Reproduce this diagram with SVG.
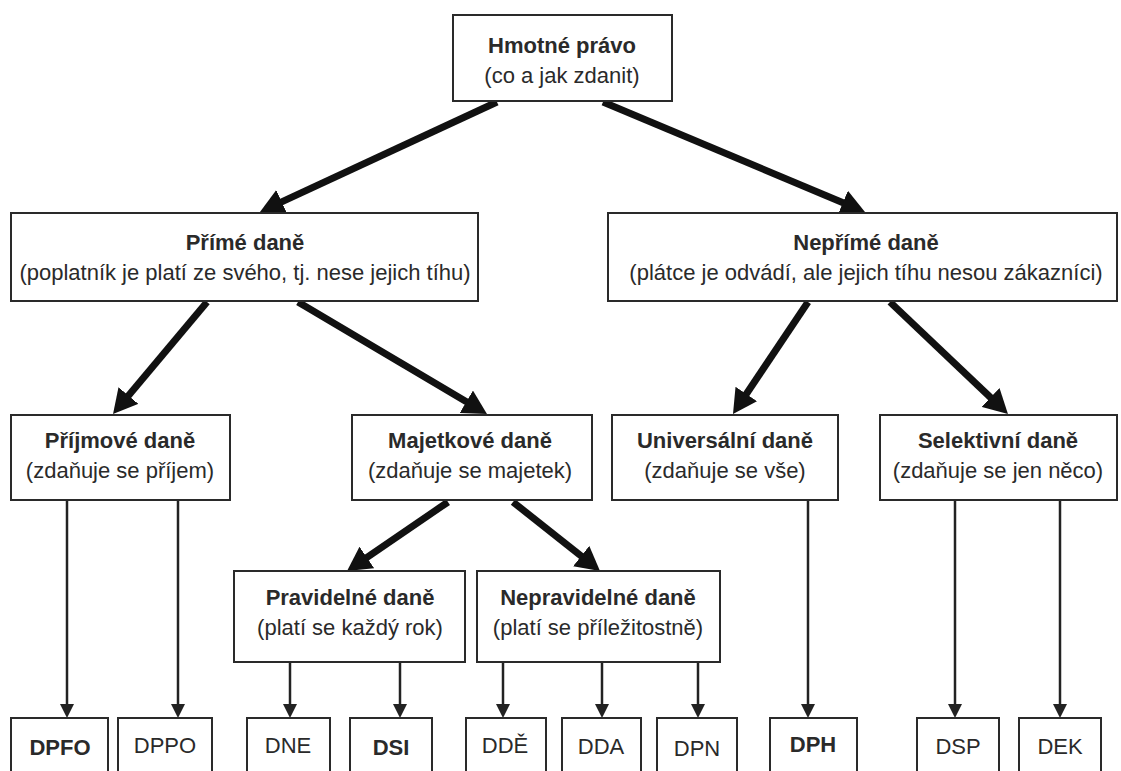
<svg xmlns="http://www.w3.org/2000/svg" width="1121" height="771" viewBox="0 0 1121 771">
<style>
.box{fill:#fff;stroke:#2a2a2a;stroke-width:2}
.t{font-family:"Liberation Sans",Arial,sans-serif;font-size:22px;fill:#2a2a2a;text-anchor:middle}
.b{font-weight:bold}
.thick{stroke:#111;stroke-width:7;fill:none;marker-end:url(#headBig)}
.thin{stroke:#222;stroke-width:2.5;fill:none;marker-end:url(#headSmall)}
</style>
<defs>
<marker id="headBig" markerUnits="userSpaceOnUse" markerWidth="24" markerHeight="26" viewBox="0 0 24 26" refX="6" refY="13" orient="auto">
<path d="M0,0 L24,13 L0,26 z" fill="#111"/>
</marker>
<marker id="headSmall" markerUnits="userSpaceOnUse" markerWidth="14" markerHeight="14" viewBox="0 0 14 14" refX="2" refY="7" orient="auto">
<path d="M0,0 L14,7 L0,14 z" fill="#222"/>
</marker>
</defs>
<rect width="1121" height="771" fill="#fff"/>
<g id="connectors">
<line class="thick" x1="497" y1="102" x2="276.3" y2="204.4"/>
<line class="thick" x1="603" y1="102" x2="848.4" y2="205"/>
<line class="thick" x1="207" y1="302" x2="124.6" y2="400.2"/>
<line class="thick" x1="298" y1="302" x2="471.5" y2="404.8"/>
<line class="thick" x1="808" y1="302" x2="743" y2="399"/>
<line class="thick" x1="890" y1="302" x2="994.9" y2="401.6"/>
<line class="thick" x1="448" y1="502" x2="361.9" y2="560.8"/>
<line class="thick" x1="513" y1="502" x2="585.9" y2="559.8"/>
<line class="thin" x1="67" y1="500" x2="67" y2="706"/>
<line class="thin" x1="178" y1="500" x2="178" y2="706"/>
<line class="thin" x1="290" y1="662" x2="290" y2="706"/>
<line class="thin" x1="400" y1="662" x2="400" y2="706"/>
<line class="thin" x1="503" y1="662" x2="503" y2="706"/>
<line class="thin" x1="602" y1="662" x2="602" y2="706"/>
<line class="thin" x1="698" y1="662" x2="698" y2="706"/>
<line class="thin" x1="808" y1="500" x2="808" y2="706"/>
<line class="thin" x1="955" y1="500" x2="955" y2="706"/>
<line class="thin" x1="1060" y1="500" x2="1060" y2="706"/>
</g>
<g id="hmotne">
<rect class="box" x="453" y="15" width="219" height="86"/>
<text class="t b" x="562" y="53">Hmotné právo</text>
<text class="t" x="562" y="83">(co a jak zdanit)</text>
</g>
<g id="prime">
<rect class="box" x="11" y="213" width="467" height="88"/>
<text class="t b" x="245" y="250">Přímé daně</text>
<text class="t" x="245" y="280">(poplatník je platí ze svého, tj. nese jejich tíhu)</text>
</g>
<g id="neprime">
<rect class="box" x="608" y="213" width="509" height="88"/>
<text class="t b" x="866" y="250">Nepřímé daně</text>
<text class="t" x="866" y="280">(plátce je odvádí, ale jejich tíhu nesou zákazníci)</text>
</g>
<g id="prijmove">
<rect class="box" x="11" y="415" width="219" height="85"/>
<text class="t b" x="120" y="448">Příjmové daně</text>
<text class="t" x="120" y="478">(zdaňuje se příjem)</text>
</g>
<g id="majetkove">
<rect class="box" x="352" y="415" width="240" height="85"/>
<text class="t b" x="470" y="448">Majetkové daně</text>
<text class="t" x="470" y="478">(zdaňuje se majetek)</text>
</g>
<g id="universalni">
<rect class="box" x="612" y="415" width="226" height="85"/>
<text class="t b" x="725" y="448">Universální daně</text>
<text class="t" x="725" y="478">(zdaňuje se vše)</text>
</g>
<g id="selektivni">
<rect class="box" x="880" y="415" width="237" height="85"/>
<text class="t b" x="998" y="448">Selektivní daně</text>
<text class="t" x="998" y="478">(zdaňuje se jen něco)</text>
</g>
<g id="pravidelne">
<rect class="box" x="234" y="571" width="231" height="91"/>
<text class="t b" x="350" y="605">Pravidelné daně</text>
<text class="t" x="350" y="635">(platí se každý rok)</text>
</g>
<g id="nepravidelne">
<rect class="box" x="477" y="571" width="243" height="91"/>
<text class="t b" x="598" y="605">Nepravidelné daně</text>
<text class="t" x="598" y="635">(platí se příležitostně)</text>
</g>
<g id="dpfo"><rect class="box" x="11" y="718" width="97" height="60"/><text class="t b" x="60" y="755">DPFO</text></g>
<g id="dppo"><rect class="box" x="118" y="718" width="94" height="60"/><text class="t" x="165" y="753">DPPO</text></g>
<g id="dne"><rect class="box" x="247" y="718" width="83" height="60"/><text class="t" x="288" y="753">DNE</text></g>
<g id="dsi"><rect class="box" x="350" y="718" width="82" height="60"/><text class="t b" x="391" y="755">DSI</text></g>
<g id="dde"><rect class="box" x="466" y="718" width="80" height="60"/><text class="t" x="505" y="753">DDĚ</text></g>
<g id="dda"><rect class="box" x="562" y="718" width="79" height="60"/><text class="t" x="601" y="754">DDA</text></g>
<g id="dpn"><rect class="box" x="657" y="718" width="80" height="60"/><text class="t" x="697" y="756">DPN</text></g>
<g id="dph"><rect class="box" x="770" y="718" width="87" height="60"/><text class="t b" x="813" y="752">DPH</text></g>
<g id="dsp"><rect class="box" x="917" y="718" width="82" height="60"/><text class="t" x="958" y="754">DSP</text></g>
<g id="dek"><rect class="box" x="1019" y="718" width="82" height="60"/><text class="t" x="1060" y="754">DEK</text></g>
</svg>
